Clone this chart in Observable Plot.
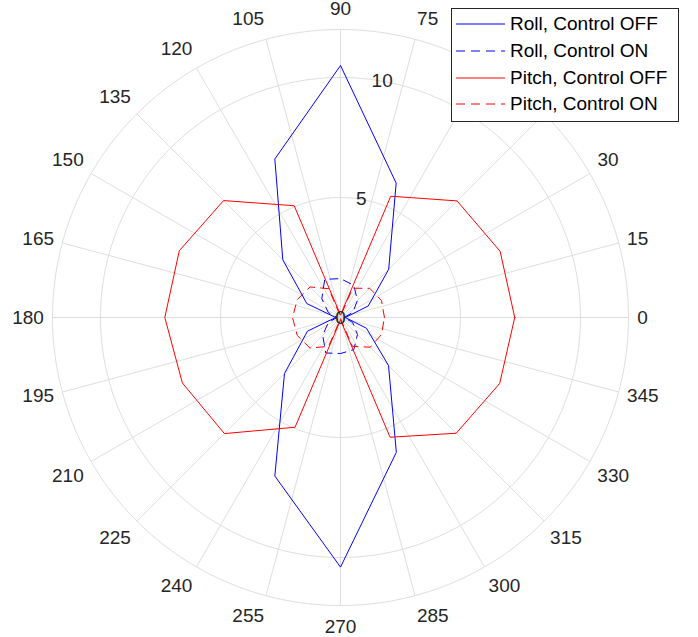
<!DOCTYPE html>
<html>
<head>
<meta charset="utf-8">
<script src="https://cdn.jsdelivr.net/npm/d3@7"></script>
<script src="https://cdn.jsdelivr.net/npm/@observablehq/plot@0.6"></script>
<style>
  html, body { margin: 0; padding: 0; background: #fff; overflow: hidden; }
  #wrap { position: relative; width: 698px; height: 637px; font-family: "Liberation Sans", Arial, Helvetica, sans-serif; }
  #legend {
    position: absolute; left: 451px; top: 8px; width: 226px; height: 110px;
    background: #fff; border: 1px solid #262626; padding-top: 2px;
  }
  .row { height: 26.7px; display: flex; align-items: center; font-size: 19px; color: #000; white-space: nowrap; }
  .row svg { margin-left: 4px; margin-right: 5px; flex: none; }
</style>
</head>
<body>
<div id="wrap"><div id="chart"></div><div id="legend"></div></div>
<script>
// Polar response: radius vs. direction (degrees)
const angles = [0, 22.5, 45, 67.5, 90, 112.5, 135, 157.5, 180, 202.5, 225, 247.5, 270, 292.5, 315, 337.5];
const rollOff  = [0.2, 1.25, 2.84, 6.06, 10.5, 7.15, 3.4, 1.52, 0.2, 1.49, 3.3, 7.15, 10.4, 6.08, 2.83, 1.17];
const rollOn   = [0.15, 0.55, 1.0, 1.45, 1.62, 1.72, 1.1, 0.55, 0.15, 0.55, 1.05, 1.6, 1.5, 1.45, 1.0, 0.55];
const pitchOff = [7.26, 7.2, 6.87, 5.47, 0.1, 5.04, 6.89, 7.27, 7.32, 7.13, 6.84, 4.95, 0.1, 5.4, 6.82, 7.18];
const pitchOn  = [1.83, 1.85, 1.72, 1.32, 0.05, 1.3, 1.8, 1.95, 2.0, 1.95, 1.8, 1.3, 0.05, 1.3, 1.75, 1.85];

const seriesNames = ["Roll, Control OFF", "Roll, Control ON", "Pitch, Control OFF", "Pitch, Control ON"];
const seriesColors = ["#0000ff", "#0000ff", "#ff0000", "#ff0000"];
const seriesDash = [null, "8,6", null, "8,6"];
const seriesValues = [rollOff, rollOn, pitchOff, pitchOn];

const thetaTicks = d3.range(0, 360, 15);
const thetaTickLabels = thetaTicks.map(String);
const rTicks = [0, 5, 10];
const rTickLabels = ["0", "5", "10"];
const rMax = 12;

// Layout: 24 px per radial unit, pole at (340, 317)
const W = 698, H = 637, cx = 340, cy = 317, k = 24;
const rad = (deg) => deg * Math.PI / 180;
const px = (r, deg) => r * Math.cos(rad(deg));
const py = (r, deg) => r * Math.sin(rad(deg));

// Closed polylines for each series
const rows = [];
seriesValues.forEach((vals, s) => {
  const pts = angles.map((a, i) => ({series: s, theta: a, r: vals[i]}));
  pts.push({...pts[0], theta: 360});
  rows.push(...pts);
});

// Grid rings (5, 10 and the outer edge)
const ringRadii = [5, 10, rMax];
const rings = ringRadii.flatMap((r) => d3.range(0, 361, 1).map((t) => ({ring: r, theta: t})));

// Angular labels: anchored just outside the outer ring, aligned away from the pole
const fs = 19;
const gapH = 297 - rMax * k, gapV = 302 - rMax * k;
const thetaLabelRows = thetaTicks.map((t, i) => {
  const label = thetaTickLabels[i];
  const hw = label.length * 5.15, hh = 7;
  const c = Math.cos(rad(t)), s = Math.sin(rad(t));
  const ax = (rMax * k + gapH) * c, ay = (rMax * k + gapV) * s;
  const ox = Math.abs(c) < 0.1 ? 0 : Math.sign(c) * hw;
  const oy = Math.abs(s) < 0.3 ? 0 : Math.sign(s) * hh;
  return {label, x: (ax + ox) / k, y: (ay + oy) / k};
});

const chart = Plot.plot({
  width: W,
  height: H,
  margin: 0,
  x: {domain: [-cx / k, (W - cx) / k], axis: null},
  y: {domain: [-(H - cy) / k, cy / k], axis: null},
  marks: [
    Plot.line(rings, {
      x: (d) => px(d.ring, d.theta), y: (d) => py(d.ring, d.theta), z: "ring",
      stroke: "#dedede", strokeWidth: 1
    }),
    Plot.link(thetaTicks, {
      x1: 0, y1: 0, x2: (t) => px(rMax, t), y2: (t) => py(rMax, t),
      stroke: "#dedede", strokeWidth: 1
    }),
    ...seriesValues.map((_, s) => Plot.line(rows.filter((d) => d.series === s), {
      x: (d) => px(d.r, d.theta), y: (d) => py(d.r, d.theta),
      stroke: seriesColors[s], strokeWidth: 1, strokeDasharray: seriesDash[s],
      strokeLinejoin: "miter", curve: "linear-closed"
    })),
    Plot.text(thetaLabelRows, {
      x: "x", y: "y", text: "label",
      fontSize: fs, fill: "#262626"
    }),
    Plot.text(rTicks, {
      x: (r) => px(r, 80), y: (r) => py(r, 80), text: (r, i) => rTickLabels[i],
      fontSize: fs, fill: "#262626"
    })
  ],
  style: {fontFamily: '"Liberation Sans", Arial, Helvetica, sans-serif', background: "#fff", overflow: "visible"}
});
document.getElementById("chart").appendChild(chart);

// Legend box in the upper right corner
const legend = d3.select("#legend");
seriesNames.forEach((name, s) => {
  const row = legend.append("div").attr("class", "row");
  const sv = row.append("svg").attr("width", 49).attr("height", 10);
  sv.append("line").attr("x1", 0).attr("x2", 49).attr("y1", 5).attr("y2", 5)
    .attr("stroke", seriesColors[s]).attr("stroke-width", 1)
    .attr("stroke-dasharray", seriesDash[s] ? "9,6" : null);
  row.append("span").text(name);
});
</script>
</body>
</html>
